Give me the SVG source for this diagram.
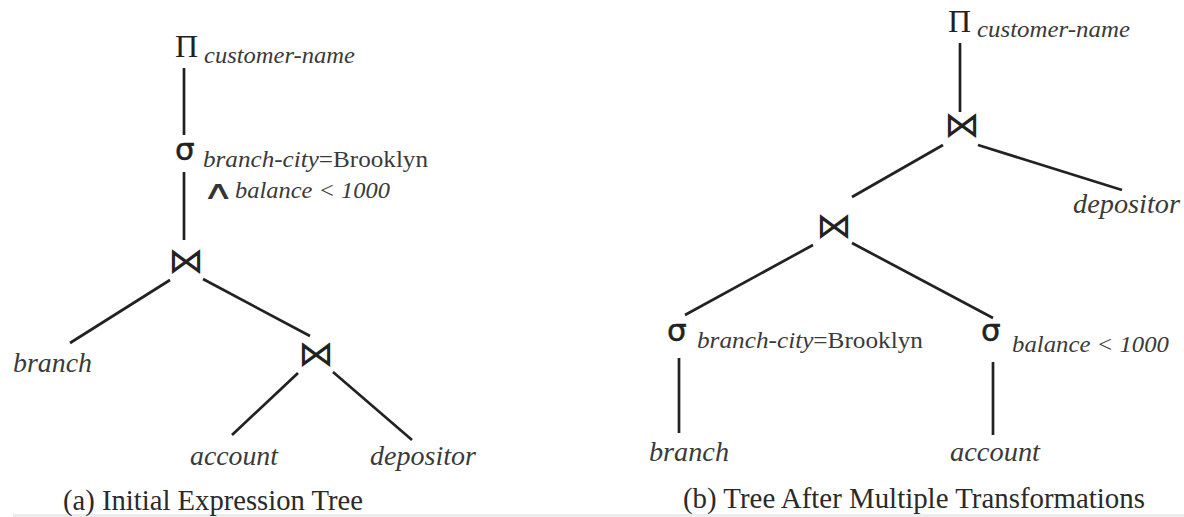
<svg xmlns="http://www.w3.org/2000/svg" width="1184" height="517" viewBox="0 0 1184 517">
<style>
.bg{fill:#ffffff}
.edge{stroke:#222;stroke-width:2.7;stroke-linecap:butt;fill:none}
.sym{font-family:"Liberation Serif","Times New Roman",serif;font-size:32px;fill:#222}
.sigma{font-family:"DejaVu Sans",sans-serif;font-size:31px;fill:#222;stroke:#222;stroke-width:0.5}
.join{font-family:"DejaVu Sans",sans-serif;font-size:36px;fill:#222;text-anchor:middle}
.and{font-family:"DejaVu Sans",sans-serif;font-size:26px;fill:#333}
.sub{font-family:"Liberation Serif","Times New Roman",serif;font-size:24px;fill:#3a3a3a}
.it{font-style:italic}
.rel{font-family:"Liberation Serif","Times New Roman",serif;font-size:28px;font-style:italic;fill:#3a3a3a}
.cap{font-family:"Liberation Serif","Times New Roman",serif;font-size:28.5px;fill:#2a2a2a}
</style>
<rect class="bg" x="0" y="0" width="1184" height="517"/>
<rect x="13" y="514" width="1171" height="3" fill="#ececec"/>

<g id="connectors">
  <line class="edge" x1="184" y1="68" x2="184" y2="135"/>
  <line class="edge" x1="184" y1="172" x2="184" y2="240"/>
  <line class="edge" x1="170" y1="280" x2="70" y2="343"/>
  <line class="edge" x1="203" y1="279" x2="310" y2="336"/>
  <line class="edge" x1="298" y1="373" x2="232" y2="435"/>
  <line class="edge" x1="333" y1="372" x2="412" y2="440"/>

  <line class="edge" x1="960" y1="43" x2="960" y2="112"/>
  <line class="edge" x1="943" y1="145" x2="852" y2="197"/>
  <line class="edge" x1="978" y1="145" x2="1122" y2="190"/>
  <line class="edge" x1="813" y1="245" x2="685" y2="315"/>
  <line class="edge" x1="852" y1="243" x2="993" y2="318"/>
  <line class="edge" x1="679" y1="358" x2="679" y2="433"/>
  <line class="edge" x1="993" y1="362" x2="993" y2="435"/>
</g>

<g id="a-project">
  <text class="sym" x="175" y="57">Π</text>
  <text class="sub it" x="204" y="63" textLength="151" lengthAdjust="spacingAndGlyphs">customer-name</text>
</g>
<g id="a-select">
  <text class="sigma" x="175" y="160">σ</text>
  <text class="sub" x="203" y="167" textLength="225" lengthAdjust="spacingAndGlyphs"><tspan class="it">branch-city</tspan>=Brooklyn</text>
  <text class="and" transform="translate(202,199) scale(1.7,1)" x="0" y="0">∧</text>
  <text class="sub it" x="235" y="198" textLength="155" lengthAdjust="spacingAndGlyphs">balance &lt; 1000</text>
</g>
<g id="a-join1"><text class="join" x="186" y="273">⋈</text></g>
<g id="a-branch"><text class="rel" x="13" y="372" textLength="79" lengthAdjust="spacingAndGlyphs">branch</text></g>
<g id="a-join2"><text class="join" x="316" y="366">⋈</text></g>
<g id="a-account"><text class="rel" x="190" y="465" textLength="88" lengthAdjust="spacingAndGlyphs">account</text></g>
<g id="a-depositor"><text class="rel" x="370" y="465" textLength="106" lengthAdjust="spacingAndGlyphs">depositor</text></g>
<g id="a-caption"><text class="cap" x="63" y="510" textLength="300" lengthAdjust="spacingAndGlyphs">(a) Initial Expression Tree</text></g>

<g id="b-project">
  <text class="sym" x="948" y="32">Π</text>
  <text class="sub it" x="977" y="37" textLength="153" lengthAdjust="spacingAndGlyphs">customer-name</text>
</g>
<g id="b-join1"><text class="join" x="962" y="137">⋈</text></g>
<g id="b-depositor"><text class="rel" x="1073" y="213" textLength="107" lengthAdjust="spacingAndGlyphs">depositor</text></g>
<g id="b-join2"><text class="join" x="834" y="238">⋈</text></g>
<g id="b-select-city">
  <text class="sigma" x="667" y="341">σ</text>
  <text class="sub" x="697" y="348" textLength="226" lengthAdjust="spacingAndGlyphs"><tspan class="it">branch-city</tspan>=Brooklyn</text>
</g>
<g id="b-select-balance">
  <text class="sigma" x="981" y="341">σ</text>
  <text class="sub it" x="1012" y="352" textLength="157" lengthAdjust="spacingAndGlyphs">balance &lt; 1000</text>
</g>
<g id="b-branch"><text class="rel" x="649" y="461" textLength="80" lengthAdjust="spacingAndGlyphs">branch</text></g>
<g id="b-account"><text class="rel" x="950" y="461" textLength="90" lengthAdjust="spacingAndGlyphs">account</text></g>
<g id="b-caption"><text class="cap" x="683" y="508" textLength="462" lengthAdjust="spacingAndGlyphs">(b) Tree After Multiple Transformations</text></g>
</svg>
